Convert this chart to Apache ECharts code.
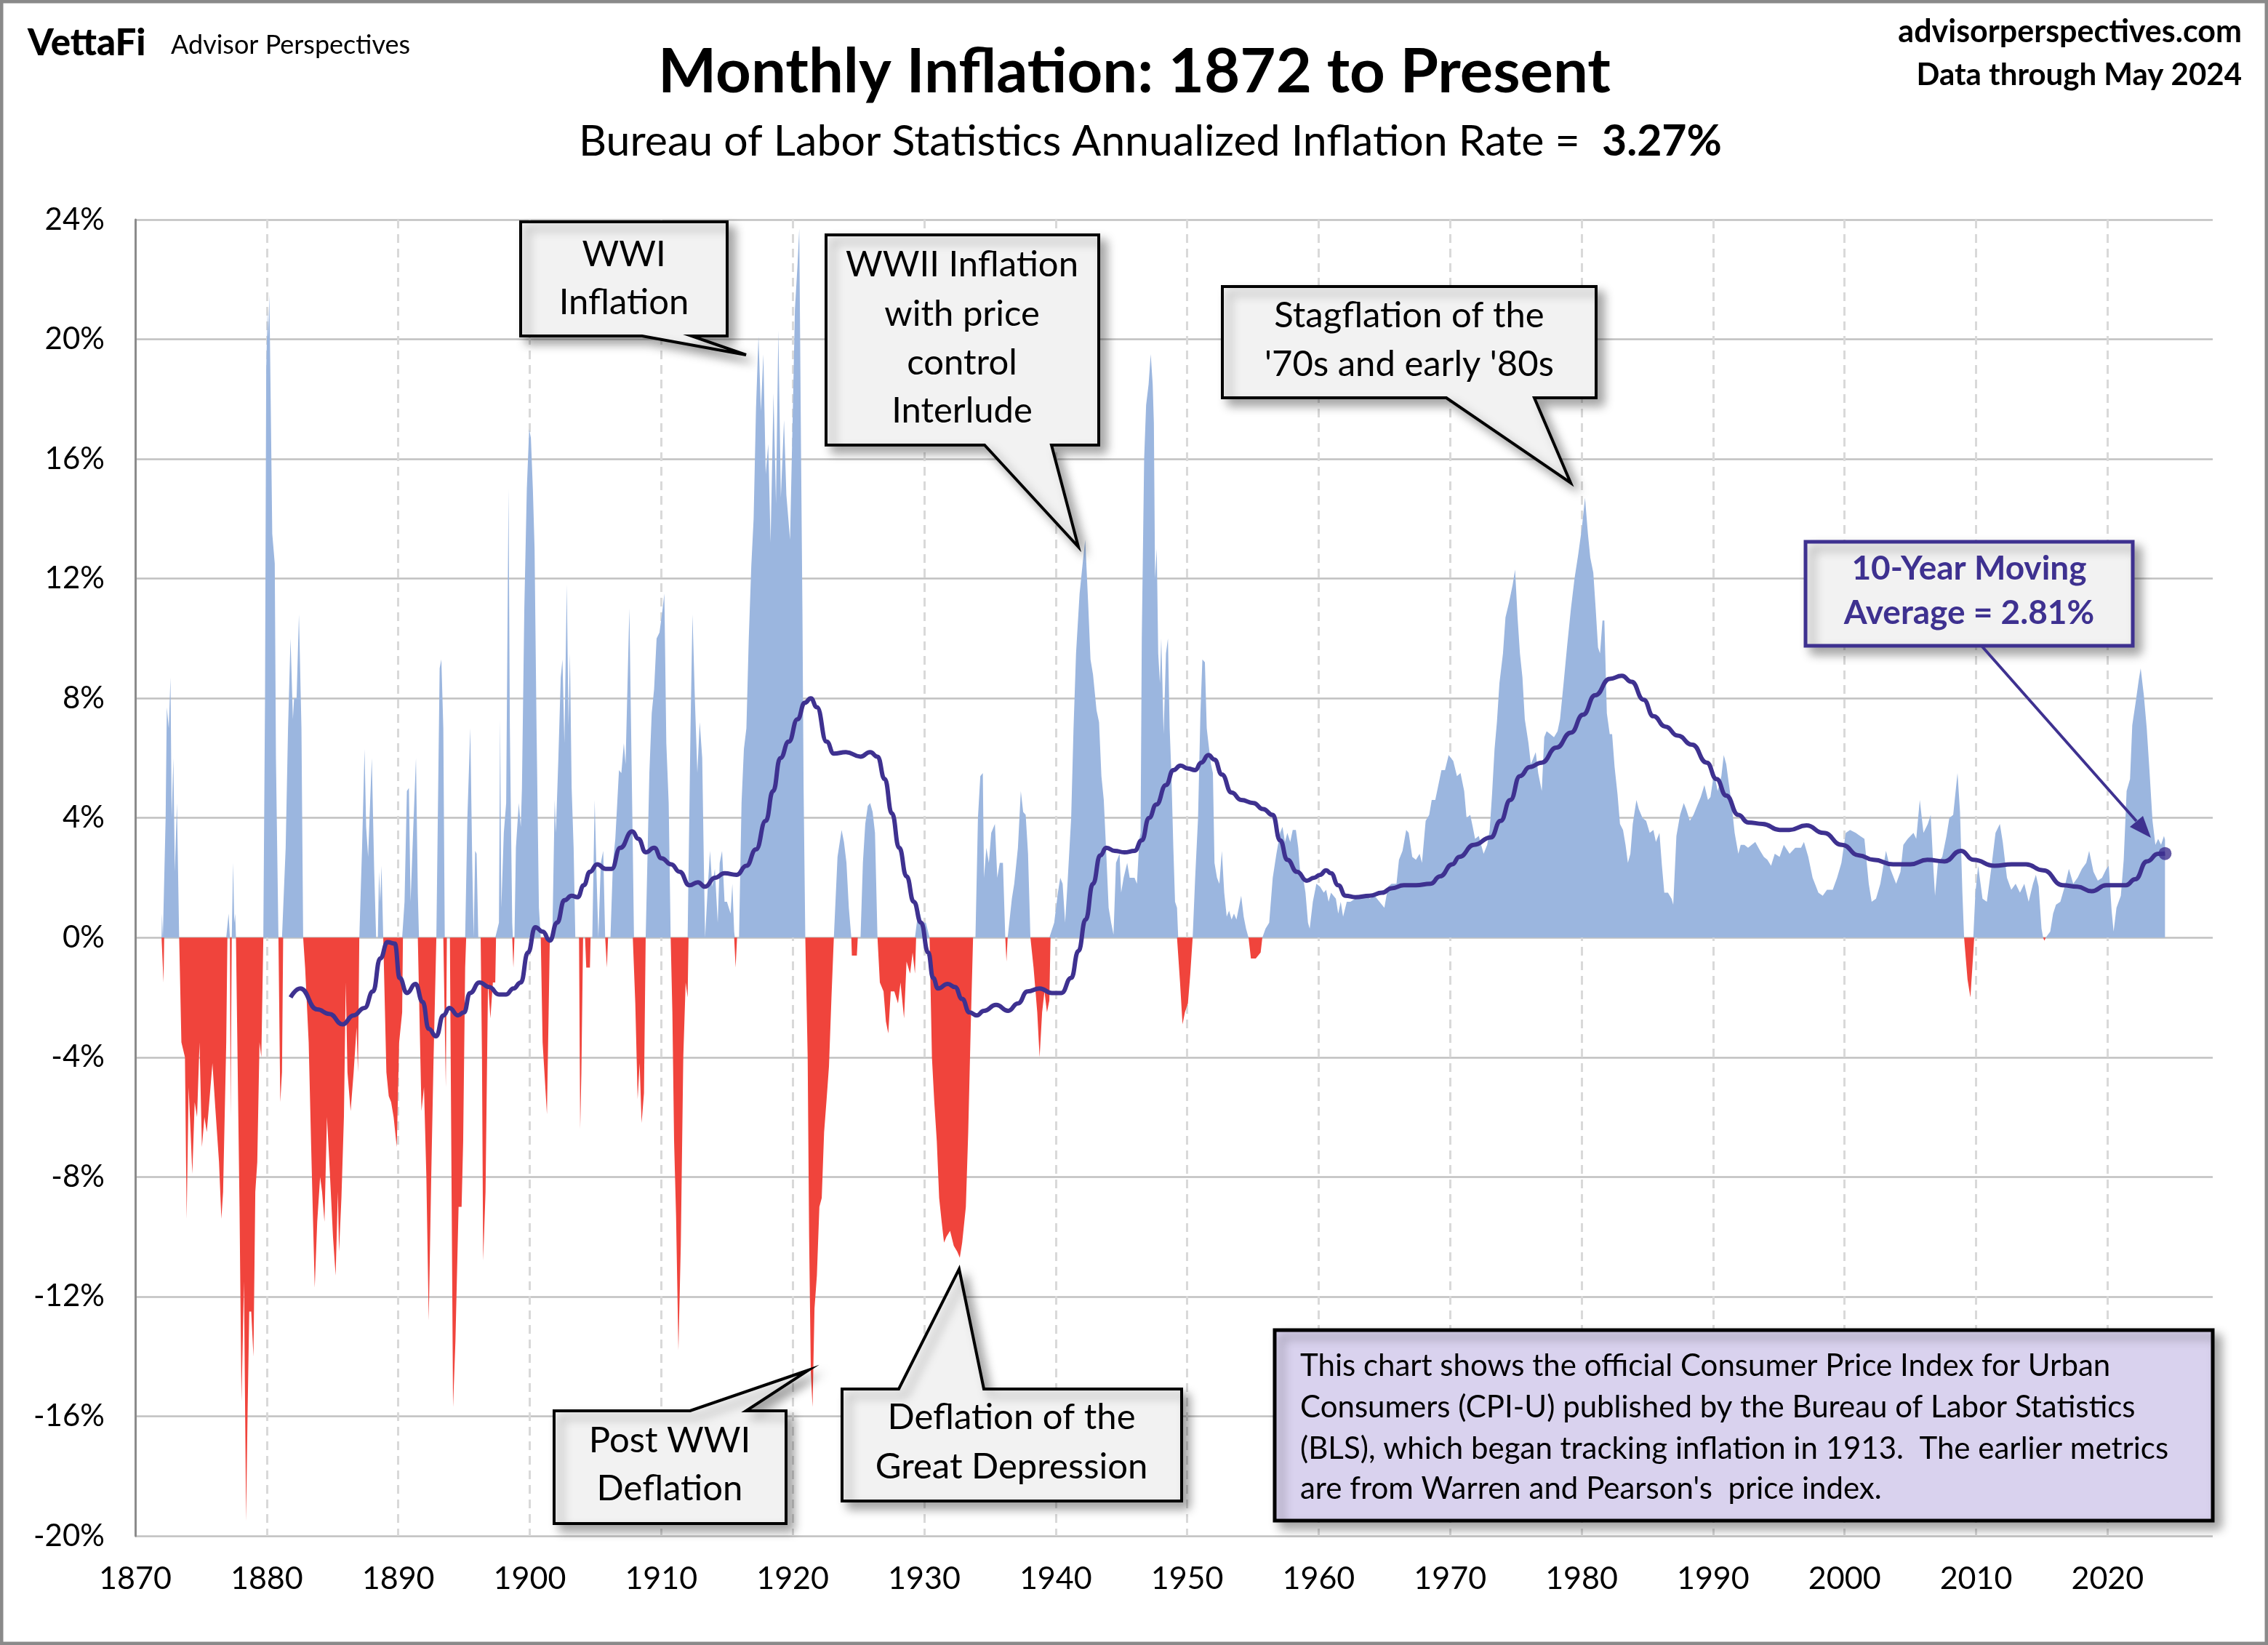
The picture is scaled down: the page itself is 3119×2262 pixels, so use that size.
<!DOCTYPE html>
<html>
<head>
<meta charset="utf-8">
<title>Monthly Inflation: 1872 to Present</title>
<script src="https://cdn.jsdelivr.net/npm/echarts@6/dist/echarts.min.js"></script>
<style>
  html, body { margin: 0; padding: 0; background: #fff; }
  #chart { width: 3119px; height: 2262px; }
</style>
</head>
<body>
<div id="chart"></div>
<script>
// monthly annualized inflation, %, [year, value]
var cpi1872 = [
  [1872.0,0],[1872.03,0.8],[1872.1,0],[1872.15,-1.5],[1872.2,0],[1872.31,4],[1872.4,7.7],[1872.55,7.0],[1872.68,8.7],[1872.77,4.0],[1872.9,6.0],[1873.01,2.2],[1873.17,4.5],[1873.34,0],
  [1873.51,-3.5],[1873.78,-4],[1873.91,-9.4],[1874.06,-5],[1874.21,-6.5],[1874.34,-7.9],[1874.52,-5.5],[1874.7,-6],[1874.89,-3.5],[1875.07,-7],[1875.26,-6],[1875.44,-6.5],[1875.63,-5.5],[1875.87,-4.2],[1876.09,-5.7],[1876.37,-7.5],[1876.55,-9.4],[1876.68,-8.5],[1876.92,-3.5],[1877.01,0],[1877.1,0.8],[1877.2,0],[1877.25,-6],[1877.34,0],[1877.44,2.5],[1877.53,0.5],[1877.6,0.8],[1877.66,0],
  [1877.75,-3],[1877.93,-9],[1878.08,-15.5],[1878.27,-11.5],[1878.43,-19.5],[1878.54,-16],[1878.67,-12.5],[1878.82,-12.5],[1878.99,-14],[1879.13,-8.5],[1879.28,-7.5],[1879.45,-3.5],[1879.59,-4],[1879.74,0],
  [1879.87,8],[1879.96,19],[1880.06,21],[1880.11,20],[1880.2,21.5],[1880.3,18],[1880.42,13.5],[1880.61,12.5],[1880.7,6],[1880.89,0],[1881.03,-5.5],[1881.16,-4.5],[1881.25,0],
  [1881.44,3],[1881.62,7],[1881.81,10],[1881.99,7.3],[1882.08,8],[1882.27,8],[1882.45,10.8],[1882.64,7],[1882.77,0],
  [1882.92,-1],[1883.19,-3.5],[1883.38,-7],[1883.65,-11.7],[1883.84,-9.5],[1884.06,-8],[1884.21,-8.5],[1884.39,-9.5],[1884.58,-6],[1884.76,-7.5],[1885.04,-10],[1885.24,-11.3],[1885.41,-8.5],[1885.5,-10.5],[1885.68,-8.7],[1885.87,-6],[1886.01,-1.5],[1886.14,-4.5],[1886.38,-5.8],[1886.61,-4.5],[1886.83,-3],[1886.94,-4.5],[1887.04,0],
  [1887.25,3],[1887.44,6.3],[1887.56,3.7],[1887.71,2.7],[1887.86,4.5],[1887.99,6],[1888.17,2.3],[1888.32,0],[1888.45,0],[1888.54,2.2],[1888.63,1.2],[1888.73,2.4],[1888.86,0],
  [1889.1,-4.5],[1889.28,-5.3],[1889.46,-5.5],[1889.65,-6],[1889.89,-7],[1890.07,-3.5],[1890.3,-2.5],[1890.36,0],
  [1890.48,1.2],[1890.66,4.9],[1890.81,5],[1890.94,1.2],[1891.13,3.5],[1891.35,6],[1891.49,1.5],[1891.58,0],
  [1891.77,-5.8],[1891.96,-5],[1892.14,-8],[1892.32,-12.8],[1892.51,-8],[1892.69,-4],[1892.9,0],
  [1893.15,9],[1893.28,9.3],[1893.43,7],[1893.54,0],[1893.62,-5],[1893.7,0],[1893.93,0],
  [1893.99,-4],[1894.17,-15.7],[1894.35,-13.5],[1894.59,-9],[1894.82,-9],[1894.94,-6.8],[1895.09,-1],[1895.17,0]
];
var cpi1895 = [
  [1895.26,4],[1895.48,7],[1895.63,2.5],[1895.74,0],[1895.85,2.9],[1895.96,2.8],[1896.09,0],[1896.27,0],[1896.37,-4],[1896.46,-10.8],[1896.64,-8.5],[1896.83,-1.5],[1897.01,-2.7],[1897.2,-1.5],[1897.38,-1.5],[1897.44,0],
  [1897.66,0.5],[1897.75,7.3],[1897.84,1],[1898.03,3.5],[1898.21,4.5],[1898.39,15],[1898.49,7],[1898.67,0.5],[1898.72,0],[1898.76,-1],[1898.84,0],[1898.95,3],[1899.17,4.5],[1899.32,3.7],[1899.41,5],[1899.59,11],[1899.78,15],[1899.96,17],[1900.09,16.7],[1900.24,15],[1900.37,13],[1900.52,7],[1900.7,1],[1900.84,0],
  [1900.98,-3.5],[1901.16,-4.8],[1901.31,-5.9],[1901.44,-2.5],[1901.53,0],[1901.72,0],
  [1901.9,4.6],[1901.99,3.5],[1902.18,6],[1902.36,8.7],[1902.49,9.3],[1902.64,6.5],[1902.82,11.8],[1902.95,7.1],[1903.06,9.5],[1903.19,5],[1903.34,3],[1903.47,0],[1903.75,0],
  [1903.84,-6.4],[1903.93,-4.5],[1904.06,0],[1904.21,0],[1904.3,-1],[1904.58,-1],[1904.63,0],
  [1904.76,0],[1904.94,4.6],[1905.09,2],[1905.22,0],[1905.31,0],[1905.41,2.5],[1905.59,2.9],[1905.74,0],[1905.87,-1],[1905.96,0],[1906.14,0],
  [1906.33,2.5],[1906.51,3.3],[1906.79,5.6],[1906.97,5.5],[1907.16,6.5],[1907.29,5.8],[1907.44,8.5],[1907.58,11],[1907.71,7],[1907.84,3],[1907.93,0],
  [1908.03,-2.2],[1908.21,-5.4],[1908.36,-4.2],[1908.51,-6.2],[1908.69,-5.2],[1908.82,0],[1908.91,0],
  [1909.1,5.5],[1909.28,7.5],[1909.46,8.3],[1909.65,10],[1909.87,10.2],[1910.11,11],[1910.24,11.5],[1910.39,6.5],[1910.57,4.5],[1910.72,0],
  [1910.85,-2.5],[1910.98,-6.8],[1911.13,-9.3],[1911.31,-13.8],[1911.49,-10.3],[1911.68,-4],[1911.86,-1.5],[1912.01,-2],[1912.08,0],
  [1912.23,7],[1912.38,10.8],[1912.56,8],[1912.75,5.5],[1912.93,7.2],[1913.12,6],[1913.25,2.3],[1913.34,0],
  [1913.52,1.5],[1913.71,2.9],[1913.89,1.7],[1914.08,2.3],[1914.3,0.5],[1914.45,2.5],[1914.63,2.9],[1914.82,1.2],[1915.0,1.2],[1915.28,0.8],[1915.41,1.8],[1915.55,0.2],[1915.6,0],[1915.66,-1],[1915.77,0],[1915.92,0],
  [1916.11,4.5],[1916.29,6.3],[1916.48,7],[1916.66,10],[1916.85,12.4],[1917.03,14],[1917.21,17.7],[1917.4,20.1],[1917.58,17.6],[1917.77,19.5],[1917.95,15.5],[1918.14,16.5],[1918.32,13.2],[1918.54,18.2],[1918.73,14.5],[1918.91,20.3],[1919.1,14.7],[1919.34,17.3],[1919.52,14.8],[1919.8,13.3],[1919.98,17]
];
var cpi1920 = [
  [1920.17,21],[1920.37,22.5],[1920.5,23.7],[1920.64,16],[1920.74,11],[1920.83,5],[1920.96,0],
  [1921.14,-4],[1921.25,-10],[1921.38,-14.5],[1921.51,-15.7],[1921.66,-12.4],[1921.84,-11.3],[1922.03,-9],[1922.21,-8.7],[1922.39,-6.5],[1922.58,-5.4],[1922.76,-4.3],[1922.95,-2],[1923.13,0],
  [1923.41,2.7],[1923.72,3.6],[1923.9,3.2],[1924.09,2.5],[1924.27,1],[1924.46,0],[1924.5,-0.6],[1924.88,-0.6],[1924.95,0],
  [1925.16,0],[1925.34,2.5],[1925.52,3.8],[1925.71,4.4],[1925.89,4.5],[1926.08,4.2],[1926.26,3.5],[1926.45,0],
  [1926.63,-1.5],[1926.91,-1.8],[1927.09,-2.8],[1927.27,-3.2],[1927.46,-1.8],[1927.73,-1.8],[1928.01,-2.2],[1928.2,-1.5],[1928.47,-2.7],[1928.66,-0.8],[1928.93,-1.2],[1929.12,-0.5],[1929.3,-1.2],[1929.39,0],
  [1929.58,1],[1929.85,0.5],[1930.13,0.5],[1930.41,0],
  [1930.59,-4],[1930.77,-5.5],[1930.96,-6.8],[1931.14,-8.7],[1931.33,-9.5],[1931.51,-10.2],[1931.69,-10],[1931.97,-9.8],[1932.25,-10.3],[1932.52,-10.5],[1932.71,-10.7],[1932.89,-10.2],[1933.17,-9],[1933.35,-6.5],[1933.54,-3],[1933.72,0],
  [1933.9,0],[1934.09,4],[1934.27,5.4],[1934.46,5.5],[1934.55,2],[1934.73,3],[1934.92,2.5],[1935.1,3.5],[1935.38,3.8],[1935.56,2],[1935.75,2.5],[1935.99,2.5],[1936.17,0],[1936.26,-0.8],[1936.35,0],
  [1936.67,1.3],[1936.85,1.8],[1937.13,3],[1937.35,4.9],[1937.53,4.2],[1937.72,4.1],[1937.9,2.8],[1938.08,0],
  [1938.32,-1],[1938.6,-2.5],[1938.78,-4],[1938.97,-2.5],[1939.15,-1.8],[1939.34,-2.5],[1939.52,-2.1],[1939.61,0],
  [1939.89,0.5],[1940.17,1.5],[1940.35,2],[1940.53,1.8],[1940.72,0.5],[1940.9,1.8],[1941.18,4],[1941.36,7],[1941.55,9.5],[1941.82,11.5],[1942.1,12.7],[1942.25,13.3],[1942.47,11.2],[1942.65,9.3],[1942.84,8.8],[1943.11,7.6],[1943.3,7.2],[1943.48,5.4],[1943.66,4.6],[1943.85,2.8],[1944.03,1],[1944.22,0.5],[1944.4,0.1],[1944.59,2.5],[1944.86,2.8]
];
var cpi1945 = [
  [1944.98,1.5],[1945.17,2],[1945.44,2.5],[1945.63,2],[1946.0,2],[1946.18,1.8],[1946.37,3.3],[1946.46,3.5],[1946.55,10],[1946.73,16],[1946.88,17.8],[1947.07,18.5],[1947.23,19.5],[1947.38,18.5],[1947.47,17.2],[1947.56,12],[1947.69,13],[1947.8,9.5],[1947.93,8.5],[1948.03,10],[1948.12,8.5],[1948.21,6.8],[1948.39,9.5],[1948.54,10],[1948.67,7],[1948.8,5.5],[1948.95,3],[1949.08,1.2],[1949.23,1],[1949.32,0],
  [1949.46,-1.5],[1949.65,-2.9],[1949.83,-2.5],[1950.06,-2.2],[1950.24,-1.2],[1950.42,0],
  [1950.61,2],[1950.83,4],[1951.01,7.5],[1951.16,9.3],[1951.35,9.2],[1951.49,7],[1951.62,6.5],[1951.81,5.8],[1951.96,5.5],[1952.08,2.5],[1952.27,2],[1952.45,1.8],[1952.64,2.9],[1952.82,1.5],[1953.01,0.7],[1953.19,0.9],[1953.38,0.6],[1953.56,0.8],[1953.75,0.6],[1953.93,1],[1954.11,1.4],[1954.3,0.7],[1954.48,0.3],[1954.67,0],
  [1954.85,-0.7],[1955.22,-0.7],[1955.59,-0.5],[1955.72,0],
  [1955.96,0.3],[1956.24,0.5],[1956.51,2],[1956.79,2.8],[1957.07,3.5],[1957.25,3.7],[1957.44,3.2],[1957.62,3.5],[1957.84,3.2],[1958.03,3.6],[1958.27,3.6],[1958.45,3],[1958.63,2],[1958.82,2],[1959.0,1.5],[1959.19,0.5],[1959.32,0.3],[1959.56,1.2],[1959.83,1.8],[1960.11,1.7],[1960.39,1.5],[1960.57,1.6],[1960.76,1.2],[1960.94,1.5],[1961.13,1.4],[1961.31,1.3],[1961.49,0.8],[1961.68,1.2],[1961.86,0.7],[1962.14,1.2],[1962.42,1.2],[1962.79,1.3],[1963.15,1.3],[1963.52,1.4],[1963.89,1.3],[1964.26,1.4],[1964.63,1.2],[1965.0,1],[1965.28,1.7],[1965.55,1.8],[1965.92,1.8],[1966.11,2.6],[1966.38,2.9],[1966.66,3.6],[1966.85,3.5],[1967.12,2.7],[1967.4,2.6],[1967.68,2.8],[1967.86,2.5],[1968.14,3.9],[1968.41,4.1],[1968.6,4.6],[1968.87,4.6],[1969.06,5],[1969.34,5.6],[1969.61,5.6],[1969.89,6.1]
];
var cpi1970 = [
  [1970.24,5.9],[1970.52,5.4],[1970.79,5.5],[1971.07,4.9],[1971.25,4],[1971.53,4.1],[1971.72,3.7],[1971.9,3.3],[1972.18,3.4],[1972.36,3.1],[1972.55,2.8],[1972.82,3.1],[1973.01,3.6],[1973.19,4.8],[1973.38,6.3],[1973.56,7.2],[1973.75,8.5],[1974.02,9.5],[1974.21,10.7],[1974.48,11.2],[1974.76,11.8],[1974.94,12.3],[1975.13,10.7],[1975.31,9.5],[1975.5,8.7],[1975.68,7.3],[1975.96,6.5],[1976.14,5.8],[1976.33,6],[1976.51,6.2],[1976.7,5.5],[1976.97,4.9],[1977.16,6.7],[1977.34,6.9],[1977.62,6.8],[1977.9,6.7],[1978.17,6.9],[1978.36,7.3],[1978.63,8.5],[1978.91,9.8],[1979.19,11],[1979.46,12],[1979.74,12.8],[1980.02,13.7],[1980.26,14.7],[1980.48,13.5],[1980.66,12.7],[1980.89,12.2],[1981.07,11],[1981.25,9.7],[1981.4,9.5],[1981.59,10.6],[1981.73,10.6],[1981.92,7.5],[1982.14,6.8],[1982.32,6.8],[1982.51,5.7],[1982.73,4.8],[1982.92,3.8],[1983.15,3.6],[1983.34,3.1],[1983.52,2.5],[1983.71,2.8],[1983.89,3.8],[1984.17,4.6],[1984.35,4.3],[1984.63,4.0],[1984.91,3.9],[1985.18,3.5],[1985.46,3.6],[1985.65,3.2],[1985.92,3.5],[1986.11,2.4],[1986.29,1.5],[1986.57,1.5],[1986.84,1.3],[1986.97,1.1],[1987.21,3.4],[1987.49,4.1],[1987.77,4.5],[1987.95,4.3],[1988.23,3.9],[1988.51,4.1],[1988.78,4.4],[1989.06,4.7],[1989.34,5.1],[1989.61,4.6],[1989.8,4.7],[1990.07,5.5],[1990.35,4.9],[1990.63,5.4],[1990.81,6.1],[1991.0,5.8],[1991.18,5.2],[1991.37,4.6],[1991.64,3.5],[1991.92,2.8],[1992.1,3.1],[1992.38,3.1],[1992.66,3.0],[1992.93,3.1],[1993.21,3.2],[1993.58,2.9],[1993.86,2.7],[1994.13,2.6],[1994.41,2.4],[1994.69,2.8],[1995.06,2.7]
];
var cpi1995 = [
  [1995.38,3.1],[1995.82,2.8],[1996.25,3],[1996.69,3],[1996.91,3.2],[1997.24,2.7],[1997.57,2.0],[1998.01,1.5],[1998.34,1.4],[1998.66,1.6],[1999.1,1.6],[1999.43,2.0],[1999.76,2.5],[2000.09,3.5],[2000.42,3.6],[2000.85,3.5],[2001.18,3.4],[2001.51,3.3],[2001.84,1.8],[2002.06,1.2],[2002.39,1.3],[2002.72,1.8],[2003.15,2.9],[2003.48,2.3],[2003.92,1.8],[2004.25,2.2],[2004.47,3.1],[2004.8,3.3],[2005.24,3.5],[2005.45,3.3],[2005.72,4.6],[2006.0,3.5],[2006.33,3.8],[2006.55,4.1],[2006.77,2.2],[2006.88,1.4],[2007.1,2.5],[2007.43,2.7],[2007.75,3.4],[2007.97,4.0],[2008.26,4.1],[2008.59,5.5],[2008.78,4.2],[2008.96,1.5],[2009.09,0],[2009.35,-1.4],[2009.57,-2.0],[2009.79,-0.5],[2009.86,0],[2009.95,1.5],[2010.16,2.4],[2010.49,1.3],[2010.82,1.2],[2011.15,2.3],[2011.48,3.5],[2011.81,3.8],[2012.03,3.2],[2012.35,2.0],[2012.68,1.6],[2013.01,1.8],[2013.34,1.5],[2013.67,1.8],[2014.0,1.2],[2014.33,1.8],[2014.55,2.1],[2014.76,1.7],[2014.98,0.3],[2015.1,0],[2015.2,-0.1],[2015.3,0],[2015.64,0.2],[2015.86,0.8],[2016.08,1.1],[2016.41,1.2],[2016.74,1.7],[2017.06,2.3],[2017.39,1.8],[2017.72,2.0],[2018.05,2.3],[2018.38,2.5],[2018.6,2.9],[2018.93,2.2],[2019.26,1.9],[2019.58,2.0],[2019.91,2.3],[2020.09,2.4],[2020.31,0.9],[2020.46,0.2],[2020.68,1.0],[2021.01,1.4],[2021.23,2.6],[2021.45,4.9],[2021.71,5.3],[2021.88,7.1],[2022.15,7.9],[2022.37,8.6],[2022.52,9.0],[2022.76,8.1],[2022.98,7.0],[2023.2,5.5],[2023.42,3.9],[2023.64,3.1],[2023.85,3.3],[2024.07,3.1],[2024.29,3.4],[2024.37,3.27]
];

// 10-year moving average, %
var ma1880 = [
  [1881.81,-2.0],[1882.55,-1.7],[1883.84,-2.4],[1884.76,-2.55],[1885.77,-2.9],[1886.6,-2.6],[1887.44,-2.35],[1888.08,-1.8],[1888.63,-0.7],[1889.19,-0.15],[1889.74,-0.2],[1890.11,-1.35],[1890.66,-1.85],[1891.31,-1.55],[1891.86,-2.15],[1892.32,-3.05],[1892.88,-3.3],[1893.43,-2.6],[1893.89,-2.35],[1894.54,-2.6],[1895.0,-2.5],[1895.46,-1.85],[1896.18,-1.5],[1896.92,-1.65],[1897.66,-1.9],[1898.21,-1.9],[1898.76,-1.7],[1899.32,-1.5],[1899.87,-0.5],[1900.42,0.35],[1900.98,0.2],[1901.53,-0.1],[1902.08,0.5],[1902.64,1.25],[1903.19,1.4],[1903.65,1.35],[1904.11,1.75],[1904.58,2.2],[1905.13,2.45],[1905.77,2.3],[1906.24,2.3],[1906.88,3.0],[1907.8,3.55],[1908.27,3.3],[1908.82,2.85],[1909.47,3.0],[1910.02,2.65],[1910.76,2.45],[1911.4,2.2],[1912.14,1.75],[1912.79,1.85],[1913.34,1.7],[1914.08,2.0],[1914.82,2.15],[1915.74,2.1],[1916.48,2.4],[1917.21,2.95],[1917.95,3.9],[1918.51,4.9],[1919.06,6.0],[1919.7,6.55],[1920.37,7.3],[1920.92,7.85],[1921.38,8.0],[1921.84,7.7],[1922.58,6.55],[1923.13,6.15],[1924.05,6.2],[1925.16,6.05],[1925.89,6.2],[1926.45,6.05],[1927.0,5.3],[1927.55,4.15],[1928.1,3.0],[1928.66,2.05],[1929.21,1.2],[1929.76,0.5],[1930.31,-0.5],[1930.68,-1.35],[1931.05,-1.7],[1931.79,-1.55],[1932.34,-1.65],[1932.89,-2.05],[1933.44,-2.5],[1934.0,-2.6],[1934.55,-2.45],[1935.47,-2.25],[1936.39,-2.45],[1937.13,-2.2],[1937.86,-1.8],[1938.78,-1.7],[1939.71,-1.85],[1940.44,-1.85],[1941.18,-1.35],[1941.73,-0.45],[1942.28,0.6],[1942.84,1.8],[1943.39,2.75],[1943.85,3.0],[1944.49,2.9]
];
var ma1945 = [
  [1945.23,2.85],[1946.0,2.9],[1946.55,3.25],[1947.1,4.0],[1947.66,4.45],[1948.39,5.1],[1948.95,5.6],[1949.5,5.75],[1950.06,5.65],[1950.61,5.6],[1951.07,5.85],[1951.62,6.1],[1952.08,5.95],[1952.64,5.45],[1953.38,4.85],[1954.11,4.6],[1955.04,4.5],[1955.77,4.3],[1956.51,4.1],[1957.07,3.25],[1957.62,2.6],[1958.36,2.2],[1959.1,1.9],[1959.65,2.0],[1960.11,2.1],[1960.57,2.25],[1960.94,2.15],[1961.49,1.75],[1962.05,1.4],[1962.79,1.35],[1963.89,1.4],[1964.82,1.5],[1965.55,1.65],[1966.48,1.75],[1967.4,1.75],[1968.51,1.8],[1969.24,2.05],[1970.17,2.45],[1970.7,2.7],[1971.81,3.1],[1973.1,3.35],[1973.84,3.9],[1974.58,4.6],[1975.31,5.4],[1976.05,5.7],[1976.97,5.85],[1978.08,6.35],[1979.19,6.85],[1980.11,7.45],[1981.03,8.1],[1982.14,8.65],[1983.06,8.75],[1983.8,8.55],[1984.72,7.95],[1985.46,7.4],[1986.38,7.05],[1987.31,6.75],[1988.41,6.45],[1989.52,5.85],[1990.26,5.3],[1991.0,4.75],[1991.92,4.1],[1992.66,3.85],[1993.76,3.8]
];
var ma1995 = [
  [1995.06,3.6],[1995.8,3.6],[1997.1,3.75],[1998.4,3.5],[1999.8,3.1],[2001.1,2.75],[2002.2,2.6],[2003.7,2.45],[2005.0,2.45],[2006.3,2.6],[2007.6,2.55],[2008.85,2.9],[2009.8,2.6],[2011.4,2.4],[2012.7,2.45],[2013.8,2.45],[2015.1,2.25],[2016.6,1.75],[2017.7,1.7],[2018.8,1.55],[2019.9,1.75],[2021.4,1.75],[2022.1,1.95],[2023.0,2.55],[2023.85,2.8],[2024.37,2.81]
];

var cpi = [].concat(cpi1872, cpi1895, cpi1920, cpi1945, cpi1970, cpi1995);
var ma = [].concat(ma1880, ma1945, ma1995);
var lastCpi = cpi[cpi.length - 1];
var lastMa = ma[ma.length - 1];

// split into the inflation (blue) and deflation (red) parts
var cpiUp = cpi.map(function (p) { return [p[0], Math.max(p[1], 0)]; });
var cpiDown = cpi.map(function (p) { return [p[0], Math.min(p[1], 0)]; });

var chart = echarts.init(document.getElementById('chart'));
var FONT = 'Lato';
var PURPLE = '#3e3190';

// callout box with tail, points in pixels
function callout(points, fill, stroke) {
  return {
    type: 'polygon', z: 50,
    shape: { points: points },
    style: {
      fill: fill, stroke: stroke, lineWidth: 4, lineJoin: 'miter',
      shadowBlur: 14, shadowOffsetX: 9, shadowOffsetY: 9, shadowColor: 'rgba(0,0,0,0.35)'
    }
  };
}
function label(x, y, text, size, opts) {
  opts = opts || {};
  return {
    type: 'text', z: 60, x: x, y: y,
    style: {
      text: text, fill: opts.color || '#000',
      fontFamily: FONT, fontSize: size, fontWeight: opts.weight || 'normal',
      align: opts.align || 'center', verticalAlign: 'middle',
      textAlign: opts.align || 'center', textVerticalAlign: 'middle',
      rich: opts.rich
    }
  };
}

var option = {
  animation: false,
  backgroundColor: '#fff',
  grid: { left: 186, right: 76, top: 302, bottom: 150 },
  xAxis: {
    type: 'value', min: 1870, max: 2028, interval: 10,
    axisLine: { show: false, onZero: false },
    axisTick: { show: false },
    axisLabel: {
      fontFamily: FONT, fontSize: 43, color: '#000', margin: 38,
      showMaxLabel: false,
      formatter: function (v) { return String(v); }
    },
    splitLine: { show: true, showMaxLine: false, lineStyle: { color: '#d9d9d9', width: 3, type: [12, 8] } }
  },
  yAxis: {
    type: 'value', min: -20, max: 24, interval: 4,
    axisLine: { show: true, lineStyle: { color: '#8c8c8c', width: 3 } },
    axisTick: { show: false },
    axisLabel: { fontFamily: FONT, fontSize: 42, color: '#000', margin: 42, formatter: '{value}%' },
    splitLine: { lineStyle: { color: '#c0c0c0', width: 2.5 } }
  },
  series: [
    {
      name: 'Inflation', type: 'line', data: cpiUp,
      showSymbol: false, symbol: 'none',
      lineStyle: { width: 0, opacity: 0 },
      areaStyle: { color: '#9bb6df', opacity: 1, origin: 0 },
      z: 2
    },
    {
      name: 'Deflation', type: 'line', data: cpiDown,
      showSymbol: false, symbol: 'none',
      lineStyle: { width: 0, opacity: 0 },
      areaStyle: { color: '#f0443c', opacity: 1, origin: 0 },
      z: 2
    },
    {
      name: '10-Year Moving Average', type: 'line', data: ma,
      showSymbol: false, symbol: 'none', smooth: 0.5, smoothMonotone: 'x',
      lineStyle: { color: PURPLE, width: 6 },
      z: 5
    },
    {
      name: 'Latest', type: 'scatter', data: [lastMa], symbolSize: 18,
      itemStyle: { color: PURPLE }, z: 6
    }
  ],
  graphic: { elements: [
    // frame
    { type: 'rect', shape: { x: 2, y: 2, width: 3115, height: 2258 },
      style: { fill: 'none', stroke: '#8a8a8a', lineWidth: 5 }, z: 100 },

    // header
    label(38, 60, 'VettaFi', 51, { weight: 900, align: 'left' }),
    label(235, 62, 'Advisor Perspectives', 36, { align: 'left' }),
    label(3083, 44, 'advisorperspectives.com', 43, { weight: 'bold', align: 'right' }),
    label(3083, 103, 'Data through May 2024', 42, { weight: 'bold', align: 'right' }),
    label(1560, 100, 'Monthly Inflation: 1872 to Present', 85, { weight: 'bold' }),
    label(1582, 195, '{a|Bureau of Labor Statistics Annualized Inflation Rate =  }{b|' + lastCpi[1].toFixed(2) + '%}', 59, {
      rich: {
        a: { fontFamily: FONT, fontSize: 59, fill: '#000' },
        b: { fontFamily: FONT, fontSize: 59, fontWeight: 'bold', fill: '#000' }
      }
    }),

    // WWI
    callout([[716,305],[1000,305],[1000,462],[951,462],[1026,488],[883,462],[716,462]], '#f2f2f2', '#000'),
    label(858, 350, 'WWI', 49),
    label(858, 416, 'Inflation', 49),

    // WWII
    callout([[1136,323],[1511,323],[1511,612],[1446,612],[1483,752],[1354,612],[1136,612]], '#f2f2f2', '#000'),
    label(1323, 364, 'WWII Inflation', 49),
    label(1323, 432, 'with price', 49),
    label(1323, 499, 'control', 49),
    label(1323, 565, 'Interlude', 49),

    // Stagflation
    callout([[1681,394],[2195,394],[2195,547],[2110,547],[2160,664],[1989,547],[1681,547]], '#f2f2f2', '#000'),
    label(1938, 434, 'Stagflation of the', 49),
    label(1938, 501, "'70s and early '80s", 49),

    // Post WWI deflation
    callout([[762,1940],[949,1940],[1112,1884],[1026,1940],[1081,1940],[1081,2095],[762,2095]], '#f2f2f2', '#000'),
    label(921, 1981, 'Post WWI', 49),
    label(921, 2047, 'Deflation', 49),

    // Great Depression
    callout([[1158,1910],[1236,1910],[1319,1745],[1353,1910],[1625,1910],[1625,2064],[1158,2064]], '#f2f2f2', '#000'),
    label(1391, 1949, 'Deflation of the', 49),
    label(1391, 2017, 'Great Depression', 49),

    // 10-year moving average box and arrow
    { type: 'rect', z: 50, shape: { x: 2483, y: 745, width: 450, height: 143 },
      style: { fill: '#f2f2f2', stroke: PURPLE, lineWidth: 5,
        shadowBlur: 14, shadowOffsetX: 9, shadowOffsetY: 9, shadowColor: 'rgba(0,0,0,0.35)' } },
    label(2708, 782, '10-Year Moving', 46, { weight: 'bold', color: PURPLE }),
    label(2708, 843, 'Average = ' + lastMa[1].toFixed(2) + '%', 46, { weight: 'bold', color: PURPLE }),
    { type: 'line', z: 55, shape: { x1: 2725, y1: 888, x2: 2938, y2: 1129 },
      style: { stroke: PURPLE, lineWidth: 4 } },
    { type: 'polygon', z: 55, shape: { points: [[2958,1152],[2929,1137],[2947,1122]] },
      style: { fill: PURPLE } },

    // source note
    { type: 'rect', z: 50, shape: { x: 1753, y: 1829, width: 1290, height: 262 },
      style: { fill: '#d9d2ee', stroke: '#000', lineWidth: 5,
        shadowBlur: 14, shadowOffsetX: 9, shadowOffsetY: 9, shadowColor: 'rgba(0,0,0,0.35)' } },
    label(1788, 1878, 'This chart shows the official Consumer Price Index for Urban', 42, { align: 'left' }),
    label(1788, 1935, 'Consumers (CPI-U) published by the Bureau of Labor Statistics', 42, { align: 'left' }),
    label(1788, 1992, '(BLS), which began tracking inflation in 1913.  The earlier metrics', 42, { align: 'left' }),
    label(1788, 2047, "are from Warren and Pearson's  price index.", 42, { align: 'left' })
  ] }
};

chart.setOption(option);
</script>
</body>
</html>
